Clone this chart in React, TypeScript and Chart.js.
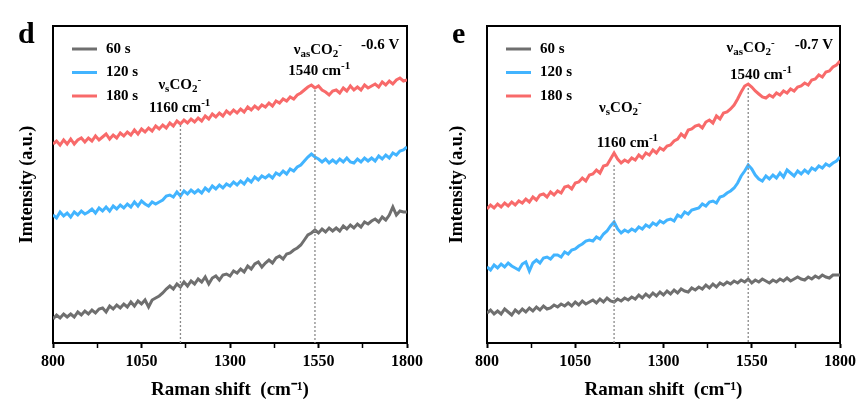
import { useEffect, useRef } from "react";
import Chart from "chart.js/auto";

// Raman shift sample grid (cm-1), 800..1800 every 10
const shifts = Array.from({ length: 101 }, (_, i) => 800 + i * 10);

const seriesLabels = ["60 s", "120 s", "180 s"];
const seriesColors = ["#6f6f6f", "#42b4ff", "#f86a6a"];

// panel d (-0.6 V), intensities
const d60 = [
  24, 28, 25, 29, 26, 29, 26, 31, 28, 32,
  29, 33, 30, 34, 35, 31, 37, 34, 38, 35,
  39, 36, 41, 37, 42, 39, 43, 36, 43, 45,
  47, 50, 54, 57, 54, 59, 56, 61, 57, 62,
  59, 64, 61, 66, 59, 65, 67, 63, 68, 69,
  67, 72, 70, 74, 71, 77, 74, 79, 81, 76,
  80, 83, 80, 85, 87, 84, 89, 90, 93, 95,
  98, 103, 108, 110, 113, 110, 114, 111, 115, 112,
  115, 112, 117, 114, 118, 115, 119, 116, 121, 119,
  122, 124, 121, 126, 123, 128, 136, 128, 132, 131,
  131,
];
const d120 = [
  128, 125, 131, 127, 130, 126, 131, 128, 132, 129,
  131, 134, 130, 135, 132, 136, 132, 137, 134, 138,
  135, 139, 136, 141, 137, 142, 139, 137, 141, 139,
  141, 143, 147, 148, 146, 151, 147, 152, 149, 153,
  150, 153, 150, 155, 152, 157, 154, 158, 155, 159,
  157, 161, 158, 162, 159, 164, 161, 166, 163, 167,
  165, 168, 165, 170, 168, 172, 169, 174, 172, 176,
  178, 182, 186, 189, 186, 184, 181, 184, 180, 183,
  180, 184, 181, 185, 181, 180, 184, 181, 185, 182,
  185, 182, 187, 184, 188, 185, 190, 188, 192, 193,
  196,
];
const d180 = [
  199, 202, 198, 203, 199, 204, 199, 203, 205, 201,
  205, 202, 207, 203, 206, 209, 204, 208, 205, 210,
  207, 211, 208, 213, 209, 214, 211, 215, 212, 217,
  214, 218, 215, 220, 217, 222, 219, 223, 220, 224,
  221, 225, 222, 227, 224, 229, 226, 230, 227, 232,
  229, 233, 230, 234, 231, 236, 233, 237, 234, 238,
  236, 240, 237, 242, 240, 244, 242, 246, 244, 248,
  250, 253, 256, 258, 255, 257, 253, 251, 248, 252,
  253, 250, 255, 252, 257, 253, 256, 253, 258, 255,
  257, 259, 256, 261, 258, 262, 259, 263, 265, 262,
  263,
];

// panel e (-0.7 V)
const e60 = [
  30, 33, 29, 32, 29, 34, 31, 28, 33, 30,
  34, 31, 35, 32, 36, 33, 37, 34, 35, 38,
  36, 39, 37, 40, 37, 41, 38, 42, 39, 41,
  43, 40, 44, 41, 45, 42, 41, 44, 42, 45,
  43, 46, 44, 48, 45, 49, 46, 50, 47, 51,
  48, 52, 49, 53, 50, 54, 52, 51, 55, 53,
  56, 54, 58, 55, 59, 56, 60, 58, 61, 59,
  62, 60, 63, 61, 64, 60, 63, 61, 64, 62,
  60, 63, 61, 64, 62, 65, 62, 64, 66, 64,
  63, 66, 64, 67, 65, 68, 66, 65, 68, 68,
  68,
];
const e120 = [
  76, 73, 78, 75, 79, 76, 80, 77, 75, 73,
  79, 81, 72, 80, 83, 80, 85, 86, 84, 88,
  88, 86, 91, 89, 93, 94, 97, 99, 102, 103,
  102, 106, 104, 109, 112, 117, 121, 114, 110, 113,
  111, 114, 112, 116, 114, 118, 116, 120, 118, 122,
  120, 123, 124, 122, 128, 126, 131, 129, 133, 134,
  135, 139, 137, 141, 142, 140, 146, 147, 150, 152,
  155, 160, 167, 172, 178, 174, 168, 164, 162, 167,
  164, 168, 165, 170, 166, 173, 170, 167, 172, 169,
  173, 170, 175, 173, 177, 175, 179, 177, 180, 182,
  186,
];
const e180 = [
  134, 138, 135, 139, 136, 140, 137, 141, 138, 142,
  140, 144, 141, 146, 143, 148, 149, 146, 151, 148,
  152, 150, 156, 157, 154, 160, 161, 165, 162, 168,
  169, 173, 170, 177, 178, 184, 190, 184, 180, 183,
  181, 185, 183, 188, 185, 190, 188, 193, 190, 195,
  193, 197, 198, 202, 204, 209, 206, 213, 214, 217,
  218, 215, 221, 223, 220, 227, 224, 230, 231, 234,
  238, 244, 251, 257, 259, 256, 252, 249, 246, 245,
  248, 246, 250, 248, 252, 250, 254, 252, 256, 257,
  260, 258, 263, 264, 268, 266, 271, 272, 276, 278,
  282,
];

// peak markers: wavenumber and where the dotted line starts
const peakShifts = [1160, 1540];
const dPeakTops = [218, 253];
const ePeakTops = [178, 255];

type Seg = { t: string; k?: "sub" | "sup" };
type Note = { x: number; y: number; segs: Seg[] };

const nuS: Seg[] = [{ t: "ν" }, { t: "s", k: "sub" }, { t: "CO" }, { t: "2", k: "sub" }, { t: "-", k: "sup" }];
const nuAs: Seg[] = [{ t: "ν" }, { t: "as", k: "sub" }, { t: "CO" }, { t: "2", k: "sub" }, { t: "-", k: "sup" }];
const cm = (v: string): Seg[] => [{ t: v + " cm" }, { t: "-1", k: "sup" }];

type Panel = {
  letter: string;
  series: number[][];
  peakTops: number[];
  notes: Note[];
  titlePad: number;
};

const panels: Panel[] = [
  {
    letter: "d",
    series: [d60, d120, d180],
    peakTops: dPeakTops,
    titlePad: 17,
    notes: [
      { x: 1158, y: 258, segs: nuS },
      { x: 1158, y: 235, segs: cm("1160") },
      { x: 1548, y: 293, segs: nuAs },
      { x: 1552, y: 272, segs: cm("1540") },
      { x: 1724, y: 298, segs: [{ t: "-0.6 V" }] },
    ],
  },
  {
    letter: "e",
    series: [e60, e120, e180],
    peakTops: ePeakTops,
    titlePad: 15,
    notes: [
      { x: 1178, y: 235, segs: nuS },
      { x: 1198, y: 200, segs: cm("1160") },
      { x: 1547, y: 295, segs: nuAs },
      { x: 1576, y: 268, segs: cm("1540") },
      { x: 1726, y: 298, segs: [{ t: "-0.7 V" }] },
    ],
  },
];

const FONT = '"Liberation Serif", "Times New Roman", serif';

function drawRich(ctx: CanvasRenderingContext2D, segs: Seg[], cx: number, cy: number, size: number) {
  const fontOf = (s: Seg) => `bold ${s.k ? Math.round(size * 0.7) : size}px ${FONT}`;
  const widths = segs.map((s) => {
    ctx.font = fontOf(s);
    return ctx.measureText(s.t).width;
  });
  const total = widths.reduce((a, b) => a + b, 0);
  let x = cx - total / 2;
  segs.forEach((s, i) => {
    ctx.font = fontOf(s);
    const dy = s.k === "sub" ? size * 0.3 : s.k === "sup" ? -size * 0.35 : 0;
    ctx.fillText(s.t, x, cy + dy);
    x += widths[i];
  });
}

function PanelChart({ panel }: { panel: Panel }) {
  const chartRef = useRef<HTMLCanvasElement | null>(null);

  useEffect(() => {
    if (!chartRef.current) return;
    const ctx = chartRef.current.getContext("2d");
    if (!ctx) return;

    const decor = {
      id: "decor",
      afterDraw(chart: any) {
        const c = chart.ctx as CanvasRenderingContext2D;
        const { chartArea, scales } = chart;
        c.save();
        c.fillStyle = "#000";
        c.textBaseline = "middle";
        c.textAlign = "left";
        // panel letter
        c.font = `bold 30px ${FONT}`;
        c.fillText(panel.letter, chartArea.left - 35, 35);
        // legend
        seriesLabels.forEach((lab, i) => {
          const y = chartArea.top + 23 + i * 23.5;
          c.strokeStyle = seriesColors[i];
          c.lineWidth = 3;
          c.beginPath();
          c.moveTo(chartArea.left + 19, y);
          c.lineTo(chartArea.left + 44, y);
          c.stroke();
          c.font = `bold 15px ${FONT}`;
          c.fillText(lab, chartArea.left + 53, y);
        });
        // peak notes
        panel.notes.forEach((n) => {
          drawRich(c, n.segs, scales.x.getPixelForValue(n.x), scales.y.getPixelForValue(n.y), 15);
        });
        c.restore();
      },
    };

    const lines = panel.series.map((vals, i) => ({
      type: "line" as const,
      label: seriesLabels[i],
      data: shifts.map((s, j) => ({ x: s, y: vals[j] })),
      borderColor: seriesColors[i],
      borderWidth: 3,
      pointRadius: 0,
      tension: 0,
    }));
    const dashes = peakShifts.map((p, i) => ({
      type: "line" as const,
      label: "peak " + p,
      data: [
        { x: p, y: panel.peakTops[i] },
        { x: p, y: 0 },
      ],
      borderColor: "#8a8a8a",
      borderWidth: 1.3,
      borderDash: [2, 2],
      pointRadius: 0,
    }));

    const chartInstance = new Chart(ctx, {
      type: "line",
      data: { datasets: [...dashes, ...lines] },
      options: {
        animation: false,
        responsive: true,
        maintainAspectRatio: false,
        layout: { padding: { left: 0, top: 26, right: 25, bottom: 0 } },
        plugins: { legend: { display: false }, tooltip: { enabled: false } },
        scales: {
          x: {
            type: "linear",
            min: 800,
            max: 1800,
            afterFit: (s: any) => {
              s.height = 66;
            },
            ticks: {
              stepSize: 125,
              autoSkip: false,
              maxRotation: 0,
              padding: 4,
              color: "#000",
              font: { family: FONT, size: 16, weight: "bold" },
              callback: (v: any) => ((Number(v) - 800) % 250 === 0 ? String(v) : ""),
            },
            grid: {
              drawOnChartArea: false,
              drawTicks: true,
              tickLength: 5,
              tickColor: "#000",
              tickWidth: (c: any) => ((c.tick && (c.tick.value - 800) % 250 === 0) ? 2 : 1.5),
            },
            border: { display: true, color: "#000", width: 2 },
            title: {
              display: true,
              text: "Raman shift  (cm⁻¹)",
              color: "#000",
              font: { family: FONT, size: 19, weight: "bold" },
              padding: { top: 0, bottom: 8 },
            },
          },
          x2: {
            type: "linear",
            position: "top",
            min: 800,
            max: 1800,
            afterFit: (s: any) => {
              s.height = 0;
            },
            ticks: { display: false },
            grid: { display: false },
            border: { display: true, color: "#000", width: 2 },
          },
          y: {
            min: 0,
            max: 317,
            afterFit: (s: any) => {
              s.width = panel.letter === "d" ? 53 : 55;
            },
            ticks: { display: false },
            grid: { display: false },
            border: { display: true, color: "#000", width: 2 },
            title: {
              display: true,
              text: "Imtensity (a.u.)",
              color: "#000",
              font: { family: FONT, size: 18, weight: "bold" },
              padding: { top: panel.titlePad, bottom: 0 },
            },
          },
          y2: {
            position: "right",
            min: 0,
            max: 317,
            afterFit: (s: any) => {
              s.width = 0;
            },
            ticks: { display: false },
            grid: { display: false },
            border: { display: true, color: "#000", width: 2 },
          },
        },
      },
      plugins: [decor],
    });

    return () => {
      chartInstance.destroy();
    };
  }, [panel]);

  return <canvas ref={chartRef}></canvas>;
}

export default function App() {
  return (
    <div style={{ position: "fixed", left: 0, top: 0, width: 865, height: 409, background: "#fff" }}>
      <div style={{ position: "absolute", left: 0, top: 0, width: 432, height: 409 }}>
        <PanelChart panel={panels[0]} />
      </div>
      <div style={{ position: "absolute", left: 432, top: 0, width: 433, height: 409 }}>
        <PanelChart panel={panels[1]} />
      </div>
    </div>
  );
}
